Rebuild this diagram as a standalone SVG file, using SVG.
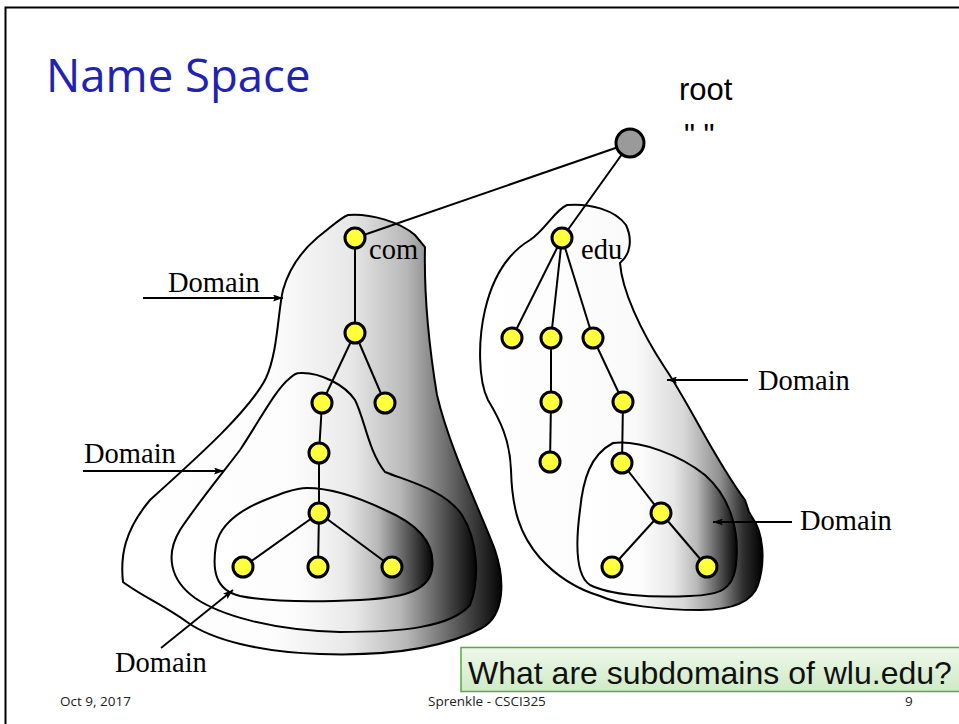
<svg xmlns="http://www.w3.org/2000/svg" width="959" height="724" viewBox="0 0 959 724">
  <defs>
    <linearGradient id="shade" x1="0" y1="0" x2="1" y2="0">
      <stop offset="0" stop-color="#ffffff"/>
      <stop offset="0.4" stop-color="#fcfcfc"/>
      <stop offset="0.6" stop-color="#e8e8e8"/>
      <stop offset="0.75" stop-color="#b8b8b8"/>
      <stop offset="0.88" stop-color="#5c5c5c"/>
      <stop offset="1" stop-color="#050505"/>
    </linearGradient>
    <linearGradient id="shadeLight" x1="0" y1="0" x2="1" y2="0">
      <stop offset="0" stop-color="#ffffff"/>
      <stop offset="0.55" stop-color="#fafafa"/>
      <stop offset="0.72" stop-color="#d8d8d8"/>
      <stop offset="0.85" stop-color="#909090"/>
      <stop offset="0.93" stop-color="#303030"/>
      <stop offset="1" stop-color="#000000"/>
    </linearGradient>
    <linearGradient id="calloutFill" x1="0" y1="0" x2="0" y2="1">
      <stop offset="0" stop-color="#eef8ea"/>
      <stop offset="1" stop-color="#cfeac6"/>
    </linearGradient>
    <marker id="head" viewBox="0 0 10 7" refX="10" refY="3.5" markerWidth="11" markerHeight="7" markerUnits="userSpaceOnUse" orient="auto">
      <path d="M0,0 L10,3.5 L0,7 L2,3.5 z" fill="#000"/>
    </marker>
    <style>
      .blob { stroke: #000; stroke-width: 2; }
      .edge { stroke: #000; stroke-width: 2; fill: none; }
      .node { fill: #ffff3c; stroke: #000; stroke-width: 3; }
      .ptr { stroke: #000; stroke-width: 1.8; fill: none; marker-end: url(#head); }
      .lbl { font-family: "Liberation Serif", "Times New Roman", serif; font-size: 28.5px; fill: #000; }
      .foot { font-family: "Open Sans", "Liberation Sans", sans-serif; font-size: 13.5px; fill: #222; }
    </style>
  </defs>

  <rect width="959" height="724" fill="#fff"/>
  <!-- slide frame -->
  <path d="M5.5,724 V7.5 H959" fill="none" stroke="#000" stroke-width="2"/>

  <text x="46" y="92" font-family="'Open Sans', 'Liberation Sans', sans-serif" font-size="45.5" fill="#2222b0">Name Space</text>

  <!-- domain regions -->
  <g id="domains">
    <path id="com-domain" class="blob" fill="url(#shade)" d="M348,215 C370,213 400,222 415,235 L425,247 C424,290 428,340 437,395 C450,450 480,510 495,550 C505,580 505,615 482,628 C440,650 380,656 320,654 C260,652 212,640 187,622 C165,606 140,595 123,582 C120,555 125,530 150,500 C200,455 250,410 266,378 C278,352 278,310 283,290 C290,265 305,248 318,237 C330,228 340,218 348,215 Z"/>
    <path id="com-sub-domain" class="blob" fill="url(#shade)" d="M300,373 C320,372 345,385 355,400 C365,420 368,450 385,472 C410,482 445,490 462,515 C478,540 480,580 470,605 C450,628 400,632 340,632 C270,630 220,615 195,598 C170,580 165,555 180,530 C200,500 225,470 240,450 C260,420 275,390 290,378 C294,374 297,373 300,373 Z"/>
    <path id="com-leaf-domain" class="blob" fill="url(#shade)" d="M307,488 C330,488 360,498 385,510 C420,525 436,545 432,570 C428,592 400,598 360,600 C320,602 270,602 240,596 C215,590 212,570 216,545 C220,525 240,510 265,500 C280,494 295,488 307,488 Z"/>
    <path id="edu-domain" class="blob" fill="url(#shadeLight)" d="M567,205 C590,203 615,210 626,225 C633,240 630,255 620,263 C622,290 640,330 665,368 C690,405 715,460 745,500 L749,512 L752,517 C763,532 766,560 758,585 C752,603 730,610 700,610 C660,610 620,605 600,596 C580,590 560,580 540,558 C520,535 512,510 511,470 C510,440 500,420 488,400 C478,380 478,340 485,310 C492,280 505,255 530,240 C545,230 555,210 567,205 Z"/>
    <path id="edu-sub-domain" class="blob" fill="url(#shade)" d="M613,443 C640,440 680,455 705,475 C730,497 740,530 736,565 C733,590 720,595 690,596 C650,598 610,595 590,585 C575,575 576,540 580,510 C583,480 590,455 613,443 Z"/>
  </g>

  <!-- tree edges -->
  <g id="connectors">
    <line class="edge" x1="630" y1="143" x2="355" y2="238"/>
    <line class="edge" x1="630" y1="143" x2="562" y2="238"/>
    <line class="edge" x1="355" y1="238" x2="355" y2="333"/>
    <line class="edge" x1="355" y1="333" x2="322" y2="403"/>
    <line class="edge" x1="355" y1="333" x2="385" y2="403"/>
    <line class="edge" x1="322" y1="403" x2="319" y2="453"/>
    <line class="edge" x1="319" y1="453" x2="319" y2="513"/>
    <line class="edge" x1="319" y1="513" x2="243" y2="567"/>
    <line class="edge" x1="319" y1="513" x2="318" y2="567"/>
    <line class="edge" x1="319" y1="513" x2="392" y2="567"/>
    <line class="edge" x1="562" y1="238" x2="512" y2="338"/>
    <line class="edge" x1="562" y1="238" x2="551" y2="338"/>
    <line class="edge" x1="562" y1="238" x2="593" y2="338"/>
    <line class="edge" x1="551" y1="338" x2="551" y2="402"/>
    <line class="edge" x1="551" y1="402" x2="550" y2="462"/>
    <line class="edge" x1="593" y1="338" x2="623" y2="402"/>
    <line class="edge" x1="623" y1="402" x2="622" y2="463"/>
    <line class="edge" x1="622" y1="463" x2="661" y2="513"/>
    <line class="edge" x1="661" y1="513" x2="612" y2="567"/>
    <line class="edge" x1="661" y1="513" x2="707" y2="567"/>
  </g>

  <!-- name-space nodes -->
  <g id="root">
    <circle cx="630" cy="143" r="14" fill="#9a9a9a" stroke="#000" stroke-width="3"/>
    <text x="679" y="100" font-family="'Liberation Sans', Arial, sans-serif" font-size="31">root</text>
    <text x="684" y="146" font-family="'Liberation Sans', Arial, sans-serif" font-size="31">" "</text>
  </g>
  <g id="com">
    <circle class="node" cx="355" cy="238" r="10"/>
    <text class="lbl" x="369" y="259">com</text>
  </g>
  <g id="com-1"><circle class="node" cx="355" cy="333" r="10"/></g>
  <g id="com-1-1"><circle class="node" cx="322" cy="403" r="10"/></g>
  <g id="com-1-2"><circle class="node" cx="385" cy="403" r="10"/></g>
  <g id="com-1-1-1"><circle class="node" cx="319" cy="453" r="10"/></g>
  <g id="com-1-1-1-1"><circle class="node" cx="319" cy="513" r="10"/></g>
  <g id="com-leaf-a"><circle class="node" cx="243" cy="567" r="10"/></g>
  <g id="com-leaf-b"><circle class="node" cx="318" cy="567" r="10"/></g>
  <g id="com-leaf-c"><circle class="node" cx="392" cy="567" r="10"/></g>
  <g id="edu">
    <circle class="node" cx="562" cy="238" r="10"/>
    <text class="lbl" x="581" y="259">edu</text>
  </g>
  <g id="edu-1"><circle class="node" cx="512" cy="338" r="10"/></g>
  <g id="edu-2"><circle class="node" cx="551" cy="338" r="10"/></g>
  <g id="edu-3"><circle class="node" cx="593" cy="338" r="10"/></g>
  <g id="edu-2-1"><circle class="node" cx="551" cy="402" r="10"/></g>
  <g id="edu-2-1-1"><circle class="node" cx="550" cy="462" r="10"/></g>
  <g id="edu-3-1"><circle class="node" cx="623" cy="402" r="10"/></g>
  <g id="edu-3-1-1"><circle class="node" cx="622" cy="463" r="10"/></g>
  <g id="edu-3-1-1-1"><circle class="node" cx="661" cy="513" r="10"/></g>
  <g id="edu-leaf-a"><circle class="node" cx="612" cy="567" r="10"/></g>
  <g id="edu-leaf-b"><circle class="node" cx="707" cy="567" r="10"/></g>

  <!-- "Domain" callouts -->
  <g id="domain-labels">
    <text class="lbl" x="168" y="292">Domain</text>
    <line class="ptr" x1="143" y1="298" x2="283" y2="298"/>
    <text class="lbl" x="84" y="463">Domain</text>
    <line class="ptr" x1="83" y1="471" x2="224" y2="471"/>
    <text class="lbl" x="758" y="390">Domain</text>
    <line class="ptr" x1="748" y1="380" x2="667" y2="380"/>
    <text class="lbl" x="800" y="530">Domain</text>
    <line class="ptr" x1="792" y1="522" x2="713" y2="522"/>
    <text class="lbl" x="115" y="672">Domain</text>
    <line class="ptr" x1="161" y1="648" x2="233" y2="590"/>
  </g>

  <!-- footer -->
  <text class="foot" x="60" y="706">Oct 9, 2017</text>
  <text class="foot" x="428" y="706">Sprenkle - CSCI325</text>
  <text class="foot" x="905" y="706">9</text>

  <!-- question box -->
  <g id="question">
    <rect x="461" y="647.5" width="510" height="44" fill="url(#calloutFill)" stroke="#5aa845" stroke-width="1.5"/>
    <text x="468" y="684" font-family="'Liberation Sans', Arial, sans-serif" font-size="32" fill="#111">What are subdomains of wlu.edu?</text>
  </g>
</svg>
